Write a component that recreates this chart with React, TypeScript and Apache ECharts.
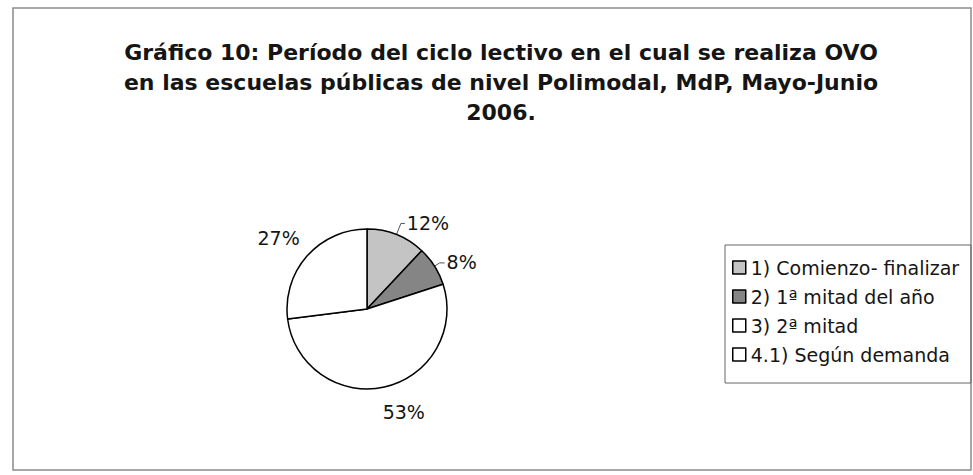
import React, { useEffect, useRef } from "react";
import * as echarts from "echarts";

const titleLines = [
  "Gráfico 10: Período del ciclo lectivo en el cual se realiza OVO",
  "en las escuelas públicas de nivel Polimodal, MdP, Mayo-Junio",
  "2006.",
];
const categories = [
  "1) Comienzo- finalizar",
  "2) 1ª mitad del año",
  "3) 2ª mitad",
  "4.1) Según demanda",
];
const values = [12, 8, 53, 27];

// styling (not data)
const colors = ["#c4c4c4", "#858585", "#ffffff", "#ffffff"];
const lineLengths = [12, 6, 24, 27];
const lineLengths2 = [4, 5, 0, 0];
const showLines = [true, true, false, false];
const labelShiftX = [0, 0, -9, 15];
const labelShiftY = [0, -1, 2, 0];

const FONT = "'DejaVu Sans', 'Liberation Sans', Arial, sans-serif";

export default function App() {
  const ref = useRef<HTMLDivElement>(null);
  useEffect(() => {
    document.body.style.margin = "0";
    const chart = echarts.init(ref.current!, null, { renderer: "svg" });
    chart.setOption({
      animation: false,
      backgroundColor: "#ffffff",
      title: {
        text: titleLines.join("\n"),
        left: 501,
        top: 37,
        padding: 0,
        textAlign: "center",
        textStyle: {
          fontFamily: FONT,
          fontWeight: "bold",
          fontSize: 22,
          lineHeight: 30,
          color: "#151515",
        },
      },
      graphic: [
        {
          type: "rect",
          shape: { x: 13, y: 8, width: 958, height: 462 },
          style: { fill: "none", stroke: "#8a8a8a", lineWidth: 1.5 },
          silent: true,
          z: -1,
        },
        {
          type: "rect",
          shape: { x: 725, y: 245, width: 246, height: 138 },
          style: { fill: "none", stroke: "#666", lineWidth: 1 },
          silent: true,
          z: -1,
        },
      ],
      legend: {
        orient: "vertical",
        left: 732,
        top: 258,
        padding: 0,
        itemGap: 10,
        itemWidth: 13,
        itemHeight: 13,
        icon: "rect",
        textStyle: {
          fontFamily: FONT,
          fontSize: 19,
          lineHeight: 19,
          color: "#151515",
        },
        itemStyle: { borderColor: "#000", borderWidth: 1.5 },
        data: categories,
      },
      series: [
        {
          type: "pie",
          center: [367, 309],
          radius: 80,
          startAngle: 90,
          clockwise: true,
          avoidLabelOverlap: false,
          itemStyle: { borderColor: "#000", borderWidth: 1.5 },
          label: {
            show: true,
            position: "outside",
            formatter: "{c}%",
            fontFamily: FONT,
            fontSize: 19,
            color: "#151515",
            distanceToLabelLine: 2,
          },
          labelLayout: (p: any) => ({
            dx: labelShiftX[p.dataIndex],
            dy: labelShiftY[p.dataIndex],
          }),
          emphasis: { disabled: true },
          data: categories.map((name, i) => ({
            name,
            value: values[i],
            itemStyle: { color: colors[i] },
            labelLine: {
              show: showLines[i],
              length: lineLengths[i],
              length2: lineLengths2[i],
              lineStyle: { color: "#555", width: 1 },
            },
          })),
        },
      ],
    });
    return () => chart.dispose();
  }, []);
  return (
    <div
      ref={ref}
      style={{ position: "absolute", left: 0, top: 0, width: 973, height: 475 }}
    />
  );
}
